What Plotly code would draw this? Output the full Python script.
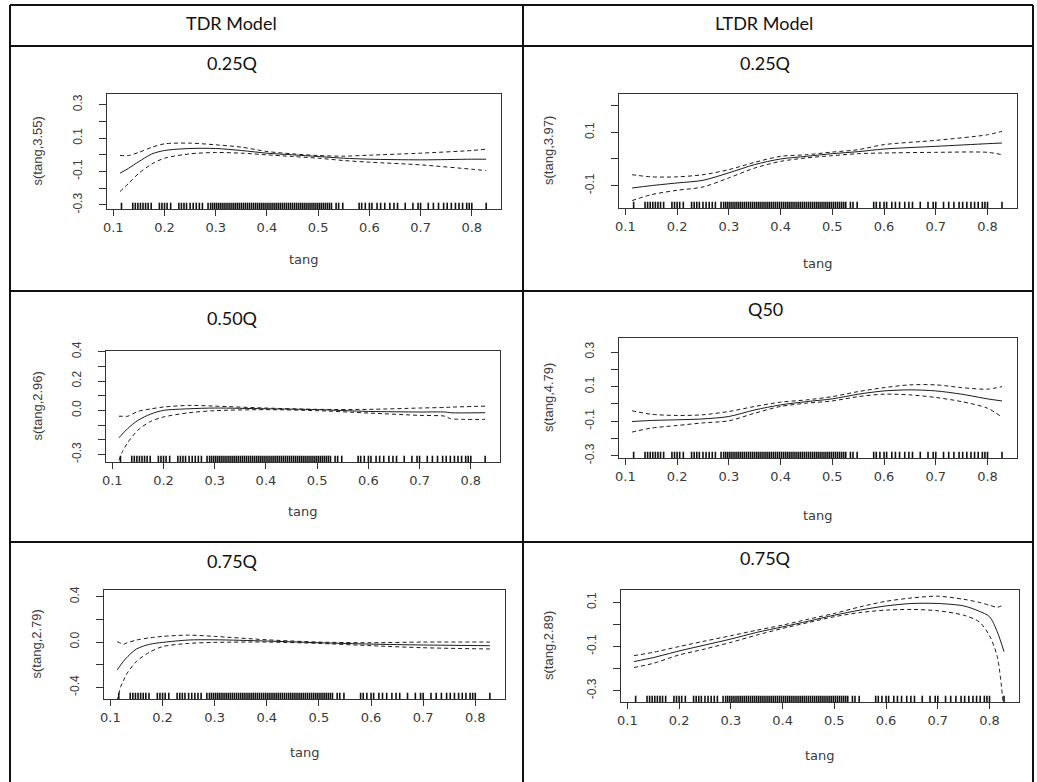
import plotly.graph_objects as go

W, H = 1037, 782

# ---------------- data ----------------
rug_x = [0.116, 0.138, 0.143, 0.148, 0.153, 0.158, 0.163, 0.168, 0.174, 0.19, 0.195,
         0.2, 0.205, 0.212, 0.228, 0.233, 0.238, 0.243, 0.25, 0.256, 0.262, 0.268,
         0.274, 0.285, 0.29, 0.294, 0.298, 0.302, 0.306, 0.31, 0.314, 0.318, 0.322,
         0.326, 0.33, 0.334, 0.338, 0.342, 0.346, 0.35, 0.354, 0.358, 0.362, 0.366,
         0.37, 0.374, 0.378, 0.382, 0.386, 0.39, 0.394, 0.398, 0.402, 0.406, 0.41,
         0.414, 0.418, 0.422, 0.426, 0.43, 0.434, 0.438, 0.442, 0.446, 0.45, 0.454,
         0.458, 0.462, 0.466, 0.47, 0.474, 0.478, 0.482, 0.486, 0.49, 0.494, 0.498,
         0.502, 0.506, 0.51, 0.514, 0.518, 0.522, 0.526, 0.535, 0.54, 0.548, 0.58,
         0.585, 0.592, 0.6, 0.605, 0.615, 0.622, 0.63, 0.64, 0.648, 0.655, 0.67,
         0.685, 0.695, 0.7, 0.715, 0.725, 0.735, 0.745, 0.752, 0.76, 0.768, 0.775,
         0.782, 0.79, 0.795, 0.8, 0.828]

# TDR 0.25Q
p1_x = [0.113, 0.13, 0.15, 0.175, 0.2, 0.25, 0.3, 0.35, 0.4, 0.45, 0.5, 0.55, 0.6, 0.7, 0.8, 0.828]
p1_fit = [-0.11, -0.08, -0.04, 0.005, 0.026, 0.038, 0.038, 0.026, 0.01, 0.0, -0.01, -0.02, -0.026, -0.03, -0.026, -0.026]
p1_upper = [-0.004, -0.004, 0.015, 0.045, 0.066, 0.07, 0.06, 0.046, 0.02, 0.006, -0.004, -0.008, -0.002, 0.01, 0.026, 0.034]
p1_lower = [-0.22, -0.17, -0.11, -0.055, -0.02, 0.006, 0.014, 0.01, 0.0, -0.01, -0.02, -0.034, -0.044, -0.06, -0.086, -0.094]

# TDR 0.50Q
p2_x = [0.113, 0.12, 0.13, 0.15, 0.175, 0.2, 0.25, 0.3, 0.4, 0.5, 0.6, 0.7, 0.75, 0.76, 0.828]
p2_fit = [-0.187, -0.16, -0.124, -0.068, -0.025, 0.0, 0.011, 0.016, 0.011, 0.005, -0.007, -0.011, -0.011, -0.016, -0.016]
p2_upper = [-0.04, -0.04, -0.04, -0.007, 0.01, 0.023, 0.034, 0.029, 0.016, 0.007, 0.007, 0.016, 0.02, 0.022, 0.029]
p2_lower = [-0.34, -0.28, -0.22, -0.135, -0.075, -0.045, -0.016, -0.002, 0.005, -0.002, -0.018, -0.034, -0.04, -0.056, -0.061]

# TDR 0.75Q
p3_x = [0.113, 0.12, 0.125, 0.13, 0.15, 0.175, 0.2, 0.25, 0.3, 0.4, 0.5, 0.6, 0.7, 0.828]
p3_fit = [-0.245, -0.2, -0.17, -0.143, -0.061, -0.02, -0.003, 0.018, 0.02, 0.009, -0.006, -0.018, -0.026, -0.032]
p3_upper = [0.003, -0.01, -0.02, -0.01, 0.018, 0.037, 0.05, 0.061, 0.05, 0.02, 0.0, -0.006, 0.0, 0.0]
p3_lower = [-0.52, -0.39, -0.34, -0.29, -0.17, -0.09, -0.04, -0.012, -0.003, 0.0, -0.012, -0.032, -0.05, -0.061]

# LTDR 0.25Q
p4_x = [0.113, 0.15, 0.2, 0.25, 0.3, 0.35, 0.4, 0.45, 0.5, 0.55, 0.6, 0.7, 0.8, 0.828]
p4_fit = [-0.109, -0.1, -0.09, -0.08, -0.052, -0.021, 0.0, 0.01, 0.02, 0.0275, 0.0375, 0.0475, 0.0575, 0.06]
p4_upper = [-0.059, -0.067, -0.067, -0.059, -0.04, -0.0125, 0.01, 0.016, 0.026, 0.035, 0.054, 0.07, 0.091, 0.104]
p4_lower = [-0.156, -0.134, -0.1175, -0.105, -0.071, -0.034, -0.009, 0.004, 0.0125, 0.02, 0.0225, 0.025, 0.025, 0.016]

# LTDR Q50
p5_x = [0.113, 0.15, 0.2, 0.25, 0.3, 0.35, 0.4, 0.45, 0.5, 0.55, 0.6, 0.65, 0.7, 0.75, 0.8, 0.828]
p5_fit = [-0.102, -0.096, -0.092, -0.087, -0.073, -0.035, -0.006, 0.013, 0.029, 0.056, 0.075, 0.081, 0.075, 0.056, 0.029, 0.017]
p5_upper = [-0.04, -0.06, -0.067, -0.063, -0.044, -0.015, 0.01, 0.023, 0.042, 0.071, 0.094, 0.11, 0.11, 0.094, 0.085, 0.1]
p5_lower = [-0.163, -0.14, -0.125, -0.11, -0.098, -0.054, -0.015, 0.004, 0.017, 0.042, 0.056, 0.052, 0.037, 0.013, -0.025, -0.077]

# LTDR 0.75Q
p6_x = [0.113, 0.15, 0.2, 0.25, 0.3, 0.35, 0.4, 0.45, 0.5, 0.55, 0.6, 0.65, 0.7, 0.75, 0.78, 0.8, 0.815, 0.828]
p6_fit = [-0.168, -0.15, -0.12, -0.093, -0.066, -0.036, -0.011, 0.015, 0.042, 0.065, 0.084, 0.095, 0.095, 0.084, 0.06, 0.035, -0.033, -0.123]
p6_upper = [-0.141, -0.126, -0.1, -0.075, -0.051, -0.026, -0.003, 0.024, 0.05, 0.08, 0.105, 0.12, 0.128, 0.114, 0.1, 0.087, 0.078, 0.09]
p6_lower = [-0.195, -0.176, -0.138, -0.111, -0.081, -0.048, -0.018, 0.009, 0.035, 0.054, 0.065, 0.068, 0.062, 0.042, 0.012, -0.051, -0.146, -0.40]

col_headers = ["TDR Model", "LTDR Model"]
panel_titles = ["0.25Q", "0.50Q", "0.75Q", "0.25Q", "Q50", "0.75Q"]
y_titles = ["s(tang,3.55)", "s(tang,2.96)", "s(tang,2.79)",
            "s(tang,3.97)", "s(tang,4.79)", "s(tang,2.89)"]
x_title = "tang"

x_tickvals = [0.1, 0.2, 0.3, 0.4, 0.5, 0.6, 0.7, 0.8]
x_ticktext = ["0.1", "0.2", "0.3", "0.4", "0.5", "0.6", "0.7", "0.8"]

p1_ytickvals = [-0.3, -0.2, -0.1, 0.0, 0.1, 0.2, 0.3]
p1_yticktext = ["-0.3", "", "-0.1", "", "0.1", "", "0.3"]
p2_ytickvals = [-0.3, -0.2, -0.1, 0.0, 0.1, 0.2, 0.3, 0.4]
p2_yticktext = ["-0.3", "", "", "0.0", "", "0.2", "", "0.4"]
p3_ytickvals = [-0.4, -0.2, 0.0, 0.2, 0.4]
p3_yticktext = ["-0.4", "", "0.0", "", "0.4"]
p4_ytickvals = [-0.1, 0.0, 0.1, 0.2]
p4_yticktext = ["-0.1", "", "0.1", ""]
p5_ytickvals = [-0.3, -0.2, -0.1, 0.0, 0.1, 0.2, 0.3]
p5_yticktext = ["-0.3", "", "-0.1", "", "0.1", "", "0.3"]
p6_ytickvals = [-0.3, -0.2, -0.1, 0.0, 0.1]
p6_yticktext = ["-0.3", "", "-0.1", "", "0.1"]

# ---------------- layout / style ----------------
x_range = [0.0877, 0.857]
y_ranges = [[-0.324, 0.364], [-0.352, 0.405], [-0.502, 0.459],
            [-0.184, 0.244], [-0.313, 0.381], [-0.351, 0.156]]
# plot boxes in pixels: (left, right, top, bottom)
boxes = [(107, 501, 94, 209), (106, 500, 351, 462), (104, 505, 590, 699),
         (619, 1017, 94, 208), (619, 1017, 338, 458), (621, 1019, 590, 702)]
title_pos = [(232, 63), (232, 318), (232, 561), (765, 63), (765, 309), (765, 558)]
xtitle_y = [260, 511, 752, 263, 515, 755]
ytitle_x = [37, 37, 36, 548, 548, 548]
header_pos = [(231, 23), (764, 23)]

panels = [
    (p1_x, p1_fit, p1_upper, p1_lower, p1_ytickvals, p1_yticktext),
    (p2_x, p2_fit, p2_upper, p2_lower, p2_ytickvals, p2_yticktext),
    (p3_x, p3_fit, p3_upper, p3_lower, p3_ytickvals, p3_yticktext),
    (p4_x, p4_fit, p4_upper, p4_lower, p4_ytickvals, p4_yticktext),
    (p5_x, p5_fit, p5_upper, p5_lower, p5_ytickvals, p5_yticktext),
    (p6_x, p6_fit, p6_upper, p6_lower, p6_ytickvals, p6_yticktext),
]


def px_x(v):
    return v / W


def px_y(v):
    return 1 - v / H


AX_COL = "#333333"
TXT_COL = "#3a3a3a"
LINE_COL = "#1a1a1a"

fig = go.Figure()
layout = dict(
    template="none",
    width=W, height=H, autosize=False,
    margin=dict(l=0, r=0, t=0, b=0, pad=0, autoexpand=False),
    paper_bgcolor="white", plot_bgcolor="white",
    showlegend=False,
)
annotations = []
shapes = []

for i, (xs, fit, up, lo, ytv, ytt) in enumerate(panels):
    n = i + 1
    xa = "x" if n == 1 else f"x{n}"
    ya = "y" if n == 1 else f"y{n}"
    xkey = "xaxis" if n == 1 else f"xaxis{n}"
    ykey = "yaxis" if n == 1 else f"yaxis{n}"
    left, right, top, bottom = boxes[i]
    yr = y_ranges[i]

    layout[xkey] = dict(
        domain=[px_x(left), px_x(right)], anchor=ya, range=x_range,
        automargin=False,
        showgrid=False, zeroline=False, showline=True, mirror=True,
        linecolor=AX_COL, linewidth=1, ticks="outside", ticklen=6,
        tickwidth=1, tickcolor=AX_COL, tickvals=x_tickvals, ticktext=x_ticktext,
        tickfont=dict(family="DejaVu Sans", size=13, color=TXT_COL),
        fixedrange=True,
    )
    layout[ykey] = dict(
        domain=[px_y(bottom), px_y(top)], anchor=xa, range=yr,
        automargin=False,
        showgrid=False, zeroline=False, showline=True, mirror=True,
        linecolor=AX_COL, linewidth=1, ticks="outside", ticklen=7,
        tickwidth=1, tickcolor=AX_COL, tickvals=ytv, ticktext=ytt,
        tickangle=-90, ticklabelstandoff=12,
        tickfont=dict(family="Liberation Sans", size=12, color=TXT_COL),
        fixedrange=True,
    )

    fig.add_trace(go.Scatter(
        x=xs, y=up, mode="lines", xaxis=xa, yaxis=ya,
        line=dict(color=LINE_COL, width=1, dash="4px,3px", shape="spline", smoothing=0.8),
        hoverinfo="skip"))
    fig.add_trace(go.Scatter(
        x=xs, y=lo, mode="lines", xaxis=xa, yaxis=ya,
        line=dict(color=LINE_COL, width=1, dash="4px,3px", shape="spline", smoothing=0.8),
        hoverinfo="skip"))
    fig.add_trace(go.Scatter(
        x=xs, y=fit, mode="lines", xaxis=xa, yaxis=ya,
        line=dict(color=LINE_COL, width=1, shape="spline", smoothing=0.8),
        hoverinfo="skip"))
    fig.add_trace(go.Scatter(
        x=rug_x, y=[yr[0]] * len(rug_x), mode="markers", xaxis=xa, yaxis=ya,
        marker=dict(symbol="line-ns", size=9, line=dict(width=1.6, color="#111111")),
        cliponaxis=True, hoverinfo="skip"))

    tx, ty = title_pos[i]
    annotations.append(dict(
        x=px_x(tx), y=px_y(ty), xref="paper", yref="paper", text=panel_titles[i],
        showarrow=False, xanchor="center", yanchor="middle",
        font=dict(family="Lato", size=18, color="#111111")))
    annotations.append(dict(
        x=px_x((left + right) / 2), y=px_y(xtitle_y[i]), xref="paper", yref="paper",
        text=x_title, showarrow=False, xanchor="center", yanchor="middle",
        font=dict(family="DejaVu Sans", size=13, color=TXT_COL)))
    annotations.append(dict(
        x=px_x(ytitle_x[i]), y=px_y((top + bottom) / 2), xref="paper", yref="paper",
        text=y_titles[i], showarrow=False, xanchor="center", yanchor="middle",
        textangle=-90, font=dict(family="Liberation Sans", size=13, color=TXT_COL)))

for (hx, hy), txt in zip(header_pos, col_headers):
    annotations.append(dict(
        x=px_x(hx), y=px_y(hy), xref="paper", yref="paper", text=txt,
        showarrow=False, xanchor="center", yanchor="middle",
        font=dict(family="Lato", size=18, color="#111111")))

# table grid lines (pixels)
TBL = dict(color="#111111", width=2)
h_lines = [(10, 1033, 5), (10, 1033, 46), (10, 1033, 291), (10, 1033, 542)]
v_lines = [(10, 5, 782), (523, 5, 782), (1033, 5, 782)]
for x0, x1, y in h_lines:
    shapes.append(dict(type="line", xref="paper", yref="paper",
                       x0=px_x(x0), x1=px_x(x1), y0=px_y(y), y1=px_y(y), line=TBL))
for x, y0, y1 in v_lines:
    shapes.append(dict(type="line", xref="paper", yref="paper",
                       x0=px_x(x), x1=px_x(x), y0=px_y(y0), y1=px_y(y1), line=TBL))

layout["annotations"] = annotations
layout["shapes"] = shapes
fig.update_layout(**layout)

fig.write_html("out.html", config={"displayModeBar": False, "staticPlot": True},
               post_script="document.body.style.margin='0px';document.body.style.overflow='hidden';")
